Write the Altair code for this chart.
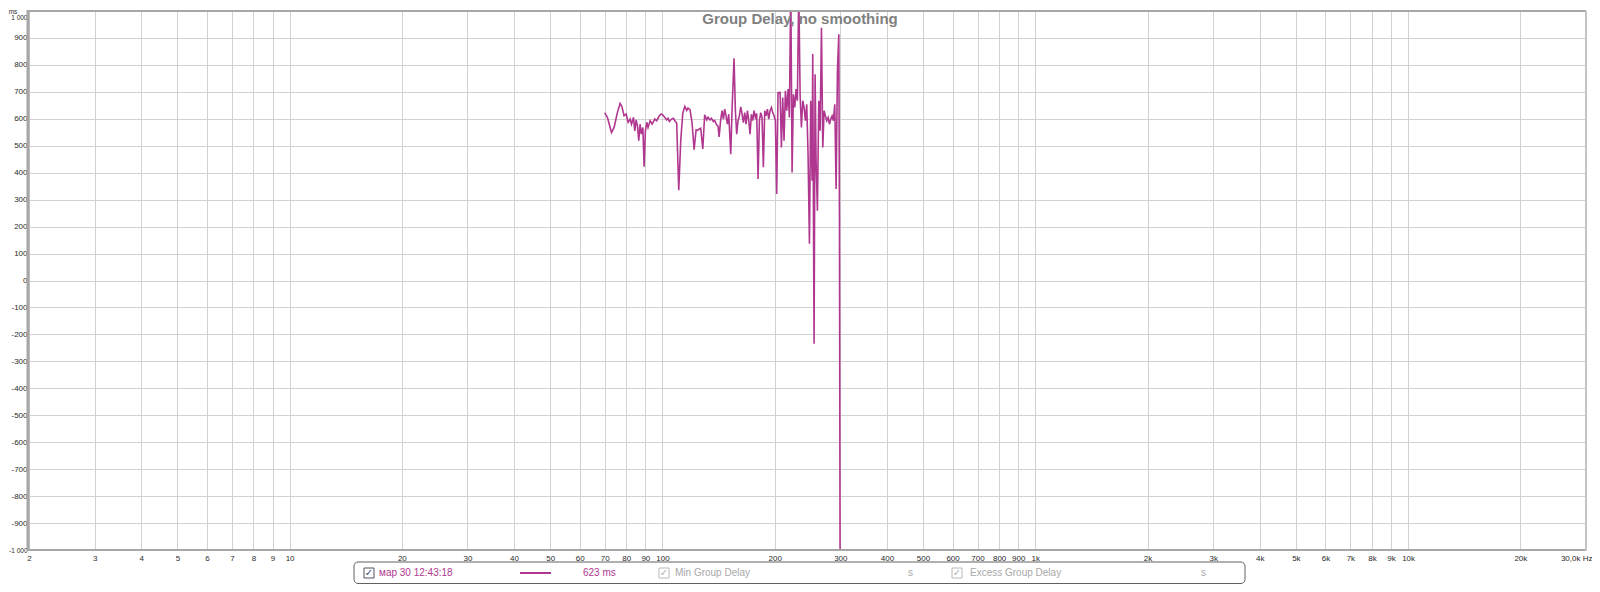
import altair as alt
import pandas as pd

# ---------------- data ----------------
freq_hz = [
    70.0, 71.2, 73.0, 74.2, 75.7, 77.0, 77.9, 78.9, 79.9, 80.9,
    81.9, 82.6, 83.6, 84.3, 85.0, 85.7, 86.4, 87.1, 87.8, 88.6,
    89.3, 90.0, 90.8, 91.5, 92.7, 93.8, 95.4, 96.5, 98.1, 99.3,
    100.2, 101.4, 102.7, 103.5, 104.4, 105.7, 107.0, 108.3, 109.2, 110.6,
    112.0, 113.4, 114.8, 116.2, 117.1, 118.6, 120.1, 121.6, 123.1, 124.1,
    125.6, 126.7, 128.3, 129.8, 131.5, 132.5, 134.2, 135.3, 137.0, 138.1,
    139.8, 141.0, 141.9, 143.2, 144.5, 145.7, 146.9, 148.1, 149.4, 150.6,
    152.5, 153.7, 155.6, 156.9, 158.2, 159.5, 160.8, 162.2, 163.5, 164.9,
    166.2, 167.6, 169.0, 170.4, 171.8, 173.2, 174.6, 176.1, 177.5, 179.0,
    180.5, 182.0, 183.5, 185.0, 186.5, 188.1, 189.6, 191.2, 192.8, 194.4,
    196.0, 197.6, 199.3, 200.9, 202.5, 204.2, 206.8, 208.5, 210.2, 211.9,
    213.7, 215.5, 217.3, 219.0, 220.9, 222.7, 224.5, 226.4, 228.3, 230.1,
    232.1, 234.0, 235.9, 237.9, 239.8, 241.8, 243.8, 245.8, 247.9, 249.9,
    252.0, 253.0, 255.1, 256.7, 258.3, 260.4, 262.6, 264.8, 267.0, 269.2,
    271.4, 273.7, 275.9, 278.2, 280.5, 282.8, 285.2, 287.5, 289.9, 292.3,
    294.7, 297.2, 298.4, 299.6,
]
delay_ms = [
    623, 605, 549, 568, 623, 657, 645, 611, 618, 587,
    599, 580, 605, 555, 596, 574, 519, 580, 543, 568,
    422, 555, 587, 568, 593, 580, 599, 593, 611, 618,
    615, 606, 596, 602, 590, 599, 602, 590, 584, 335,
    522, 621, 646, 631, 640, 633, 584, 485, 559, 557,
    562, 565, 488, 615, 596, 606, 596, 602, 590, 594,
    578, 572, 533, 593, 630, 599, 636, 611, 580, 617,
    469, 630, 825, 630, 543, 593, 611, 644, 617, 586,
    623, 580, 630, 593, 543, 617, 593, 630, 605, 620,
    377, 593, 623, 605, 420, 630, 611, 636, 599, 630,
    642, 623, 611, 593, 321, 697, 698, 494, 679, 519,
    704, 630, 710, 605, 1100, 401, 691, 642, 710, 667,
    1080, 691, 568, 667, 642, 593, 654, 469, 136, 667,
    370, 840, -235, 765, 444, 259, 667, 556, 938, 494,
    630, 611, 593, 605, 580, 599, 611, 593, 654, 340,
    778, 914, 240, -1100,
]

x_ticks = [2, 3, 4, 5, 6, 7, 8, 9, 10, 20, 30, 40, 50, 60, 70, 80, 90, 100,
           200, 300, 400, 500, 600, 700, 800, 900, 1000, 2000, 3000, 4000,
           5000, 6000, 7000, 8000, 9000, 10000, 20000, 30000]
y_ticks = list(range(-1000, 1001, 100))

title_text = "Group Delay, no smoothing"
y_unit = "ms"
legend_name = "мар 30 12:43:18"
legend_value = "623 ms"
legend_min = "Min Group Delay"
legend_excess = "Excess Group Delay"
legend_unit = "s"

# ---------------- style ----------------
W, H = 1557, 539
LINE = "#b0378f"
GRID = "#d2d2d2"
FRAME = "#a6a6a6"
LABEL = "#2a2a2a"
FONT = "Liberation Sans, Arial, sans-serif"

df = pd.DataFrame({"freq": freq_hz, "delay": delay_ms})

x_expr = ("datum.value >= 30000 ? '30,0k Hz' : datum.value >= 1000 ? "
          "(datum.value / 1000) + 'k' : '' + datum.value")
y_expr = ("datum.value == 1000 ? '1 000' : datum.value == -1000 ? '-1 000' : "
          "'' + datum.value")

line = alt.Chart(df).mark_line(clip=True, color=LINE, strokeWidth=1.6).encode(
    x=alt.X("freq:Q",
            scale=alt.Scale(type="log", domain=[2, 30000], nice=False),
            axis=alt.Axis(values=x_ticks, labelExpr=x_expr, grid=True,
                          gridColor=GRID, gridWidth=1, ticks=False, domain=False,
                          labelFont=FONT, labelFontSize=8, labelColor=LABEL,
                          labelPadding=4, labelOverlap=False, labelFlush=False,
                          labelBound=False,
                          labelAlign={"condition": {"test": "datum.value >= 30000",
                                                    "value": "right"},
                                      "value": "center"},
                          labelOffset={"condition": {"test": "datum.value >= 30000",
                                                     "value": 6},
                                       "value": 0},
                          title=None)),
    y=alt.Y("delay:Q",
            scale=alt.Scale(domain=[-1000, 1000], nice=False, zero=False),
            axis=alt.Axis(values=y_ticks, labelExpr=y_expr, grid=True,
                          gridColor=GRID, gridWidth=1, ticks=False, domain=False,
                          labelFont=FONT,
                          labelFontSize={"condition": {"test": "abs(datum.value) >= 1000",
                                                       "value": 6.5},
                                         "value": 8},
                          labelOffset={"condition": {"test": "datum.value >= 1000",
                                                     "value": 6},
                                       "value": 0},
                          labelColor=LABEL,
                          labelPadding=2, labelOverlap=False, labelFlush=False,
                          labelBound=False, title=None)),
)

one = alt.Data(values=[{"k": 0}])

frame_left = alt.Chart(one).mark_rule(color=FRAME, strokeWidth=3).encode(
    x=alt.value(-1), y=alt.value(-1), y2=alt.value(H + 1))
frame_top = alt.Chart(one).mark_rule(color=FRAME, strokeWidth=2).encode(
    x=alt.value(-1), x2=alt.value(W), y=alt.value(0))
frame_bottom = alt.Chart(one).mark_rule(color=FRAME, strokeWidth=2).encode(
    x=alt.value(-1), x2=alt.value(W), y=alt.value(H))
frame_right = alt.Chart(one).mark_rule(color="#c4c4c4", strokeWidth=2).encode(
    x=alt.value(W), y=alt.value(0), y2=alt.value(H + 1))

title = alt.Chart(one).mark_text(
    text=title_text, font=FONT, fontSize=15, fontWeight="bold",
    color="#808080", align="center", baseline="middle").encode(
    x=alt.value(771), y=alt.value(7.5))

unit = alt.Chart(one).mark_text(
    text=y_unit, font=FONT, fontSize=6.5, color=LABEL, align="center",
    baseline="top").encode(x=alt.value(-16), y=alt.value(-2.5))

# legend box
LY = 562
box = alt.Chart(one).mark_rect(
    fill="white", stroke="#606060", strokeWidth=1, cornerRadius=4).encode(
    x=alt.value(325), x2=alt.value(1216), y=alt.value(551), y2=alt.value(572.5))

def checkbox(x0, stroke, check_color):
    b = alt.Chart(one).mark_rect(fill="white", stroke=stroke, strokeWidth=1).encode(
        x=alt.value(x0), x2=alt.value(x0 + 10), y=alt.value(LY - 5), y2=alt.value(LY + 5))
    c = alt.Chart(one).mark_text(text="✓", font="DejaVu Sans", fontSize=10,
                                 color=check_color, align="center",
                                 baseline="middle").encode(
        x=alt.value(x0 + 5), y=alt.value(LY))
    return [b, c]

def ltext(txt, x0, color, size=10):
    return alt.Chart(one).mark_text(text=txt, font=FONT, fontSize=size, color=color,
                                    align="left", baseline="middle").encode(
        x=alt.value(x0), y=alt.value(LY))

sample = alt.Chart(one).mark_rule(color=LINE, strokeWidth=2).encode(
    x=alt.value(491), x2=alt.value(522), y=alt.value(LY))

layers = [line, frame_left, frame_top, frame_bottom, frame_right, title, unit, box]
layers += checkbox(335, "#505060", "#404a70")
layers += [ltext(legend_name, 350, LINE), sample, ltext(legend_value, 554, LINE)]
layers += checkbox(630, "#b8b8b8", "#b0b0b0")
layers += [ltext(legend_min, 646, "#a8a8a8"), ltext(legend_unit, 879, "#a8a8a8")]
layers += checkbox(923, "#b8b8b8", "#b0b0b0")
layers += [ltext(legend_excess, 941, "#a8a8a8"), ltext(legend_unit, 1172, "#a8a8a8")]

chart = alt.layer(*layers).properties(
    width=W, height=H,
    padding={"left": 21, "top": 3, "right": 6, "bottom": 34},
    autosize=alt.AutoSizeParams(type="none"),
).configure_view(stroke=None).configure(background="white")

chart.save("out.html", embed_options={"renderer": "svg", "actions": False})
